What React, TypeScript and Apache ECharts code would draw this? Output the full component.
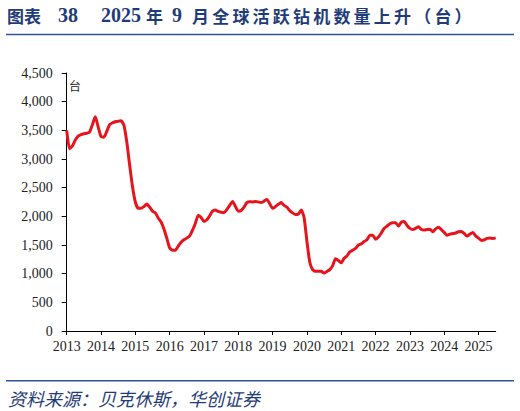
import { useEffect, useRef } from "react";
import * as echarts from "echarts";

// 全球活跃钻机数量（台），月度，2013-03 起
const startYear = 2013;
const startMonth = 3;

const rigCount = [
  3500, 3180, 3230, 3330, 3400, 3425, 3440, 3450, 3470, 3600,
  3735, 3560, 3390, 3380, 3480, 3600, 3630, 3650, 3660, 3665,
  3590, 3300, 2900, 2520, 2250, 2140, 2140, 2170, 2215, 2160,
  2090, 2060, 1970, 1900, 1780, 1620, 1450, 1410, 1410, 1480,
  1550, 1590, 1620, 1660, 1760, 1880, 2020, 1980, 1910, 1940,
  2010, 2090, 2110, 2085, 2070, 2065, 2120, 2190, 2260, 2170,
  2090, 2100, 2160, 2240, 2255, 2250, 2260, 2250, 2240, 2265,
  2295, 2220, 2140, 2170, 2210, 2240, 2190, 2160, 2100, 2060,
  2030, 2040, 2110, 1980, 1560, 1200, 1070, 1040, 1040, 1040,
  1010, 1040, 1070, 1140, 1260, 1230, 1190, 1270, 1310, 1380,
  1410, 1440, 1500, 1520, 1560, 1590, 1670, 1670, 1600, 1640,
  1710, 1790, 1830, 1870, 1890, 1890, 1830, 1900, 1910, 1840,
  1790, 1770, 1790, 1820, 1770, 1760, 1770, 1775, 1730, 1780,
  1810, 1770, 1720, 1670, 1690, 1700, 1710, 1730, 1735, 1700,
  1655, 1690, 1720, 1660, 1620, 1580, 1590, 1615, 1620, 1615,
  1625,
];

const months: string[] = rigCount.map((_, i) => {
  const m = startMonth - 1 + i;
  const y = startYear + Math.floor(m / 12);
  const mm = (m % 12) + 1;
  return `${y}-${mm < 10 ? "0" + mm : mm}`;
});

const yMin = 0;
const yMax = 4500;
const yStep = 500;

const titleColor = "#1F3C78";
const lineColor = "#2F5597";
const seriesColor = "#E5141D";
const serif = "'Liberation Serif', 'Times New Roman', serif";
const cjk = "'Noto Sans CJK SC', 'Liberation Serif', sans-serif";

export default function App() {
  const chartRef = useRef<HTMLDivElement>(null);

  useEffect(() => {
    if (!chartRef.current) return;
    const chart = echarts.init(chartRef.current, null, { renderer: "svg" });

    const titleText = (text: string, x: number, font: string, size: number, top = 6) => ({
      type: "text",
      left: x,
      top,
      style: {
        text,
        fill: titleColor,
        font: `bold ${size}px ${font}`,
      },
    });

    // 标题后半段逐字排开，模拟原图的字距
    const tail = "月全球活跃钻机数量上升（台）".split("");
    const tailTexts = tail.map((ch, k) => titleText(ch, 192 + k * 20.2, cjk, 17, 7));

    const option: echarts.EChartsOption = {
      animation: false,
      backgroundColor: "#fff",
      grid: { left: 66.7, right: 24.3, top: 73, bottom: 80 },
      xAxis: {
        type: "category",
        data: months,
        boundaryGap: false,
        axisLine: { lineStyle: { color: "#000", width: 1 } },
        axisTick: {
          inside: false,
          length: 4,
          interval: (idx: number) => idx % 12 === 0,
          lineStyle: { color: "#000" },
        },
        axisLabel: {
          interval: (idx: number) => idx % 12 === 0,
          formatter: (v: string) => v.slice(0, 4),
          color: "#222",
          fontFamily: serif,
          fontSize: 14,
          margin: 8,
        },
        splitLine: { show: false },
      },
      yAxis: {
        type: "value",
        min: yMin,
        max: yMax,
        interval: yStep,
        axisLine: { show: true, lineStyle: { color: "#000", width: 1 } },
        axisTick: { show: true, length: 5, lineStyle: { color: "#000" } },
        axisLabel: {
          color: "#222",
          fontFamily: serif,
          fontSize: 14,
          margin: 14,
          formatter: (v: number) => v.toLocaleString("en-US"),
        },
        splitLine: { show: false },
      },
      series: [
        {
          type: "line",
          data: rigCount,
          showSymbol: false,
          smooth: 0.2,
          lineStyle: { color: seriesColor, width: 3 },
          itemStyle: { color: seriesColor },
        },
      ],
      graphic: [
        titleText("图表", 7, cjk, 17, 7),
        titleText("38", 58, serif, 20, 5),
        titleText("2025", 101, serif, 20, 5),
        titleText("年", 146, cjk, 17, 7),
        titleText("9", 172, serif, 20, 5),
        ...tailTexts,
        {
          type: "line",
          shape: { x1: 6, y1: 34.5, x2: 514, y2: 34.5 },
          style: { stroke: lineColor, lineWidth: 1.5 },
        },
        {
          type: "text",
          left: 69,
          top: 79,
          style: { text: "台", fill: "#222", font: `12px ${cjk}` },
        },
        {
          type: "line",
          shape: { x1: 6, y1: 380.7, x2: 514, y2: 380.7 },
          style: { stroke: lineColor, lineWidth: 1.5 },
        },
        {
          type: "text",
          left: 8,
          top: 389,
          style: {
            text: "资料来源：贝克休斯，华创证券",
            fill: titleColor,
            font: `italic 18px ${cjk}`,
          },
        },
      ],
    };
    chart.setOption(option);

    return () => {
      chart.dispose();
    };
  }, []);

  return (
    <div
      ref={chartRef}
      style={{ position: "absolute", left: 0, top: 0, width: "520px", height: "411px" }}
    />
  );
}
